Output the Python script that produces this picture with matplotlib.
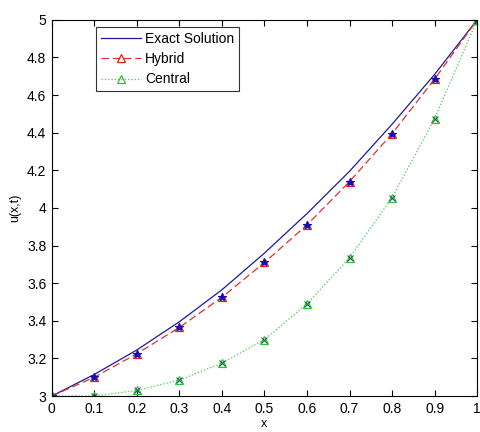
import matplotlib
matplotlib.use("Agg")
import matplotlib.pyplot as plt

plt.rcParams['font.family'] = ['Liberation Sans', 'DejaVu Sans']

x = [0.0, 0.1, 0.2, 0.3, 0.4, 0.5, 0.6, 0.7, 0.8, 0.9, 1.0]
exact = [3.0, 3.115, 3.245, 3.395, 3.565, 3.76, 3.97, 4.195, 4.445, 4.71, 5.0]
hybrid = [3.0, 3.10, 3.225, 3.365, 3.525, 3.71, 3.91, 4.14, 4.395, 4.685, 5.0]
central = [3.0, 3.00, 3.03, 3.085, 3.175, 3.30, 3.49, 3.735, 4.055, 4.475, 5.0]

xticks = [0, 0.1, 0.2, 0.3, 0.4, 0.5, 0.6, 0.7, 0.8, 0.9, 1]
xticklabels = ['0', '0.1', '0.2', '0.3', '0.4', '0.5', '0.6', '0.7', '0.8', '0.9', '1']
yticks = [3, 3.2, 3.4, 3.6, 3.8, 4, 4.2, 4.4, 4.6, 4.8, 5]
yticklabels = ['3', '3.2', '3.4', '3.6', '3.8', '4', '4.2', '4.4', '4.6', '4.8', '5']

fig = plt.figure(figsize=(4.8, 4.32), dpi=100)
ax = fig.add_axes([0.108, 0.0833, 0.886, 0.8707])

ax.plot(x, exact, '-', color='#1a1a9a', lw=0.9, label='Exact Solution')
ax.plot(x, hybrid, '--', color='#e03030', lw=0.9, marker='^', ms=6,
        mfc='none', mec='#d02020', mew=0.9, dashes=(6, 3), label='Hybrid')
ax.plot(x, central, ':', color='#40d040', lw=0.9, marker='^', ms=6,
        mfc='none', mec='#30c030', mew=0.9, label='Central')
ax.plot(x, hybrid, linestyle='none', marker='*', ms=6, color='#1010c0', mew=0.8)
ax.plot(x, central, linestyle='none', marker='x', ms=4, color='#206060', mew=0.8)

ax.set_xlim(0, 1)
ax.set_ylim(3, 5)
ax.set_xticks(xticks)
ax.set_xticklabels(xticklabels)
ax.set_yticks(yticks)
ax.set_yticklabels(yticklabels)
ax.tick_params(direction='in', top=True, right=True, labelsize=10, length=4, width=0.8, pad=4)
for s in ax.spines.values():
    s.set_linewidth(0.8)

ax.set_xlabel('x', fontsize=9, labelpad=2)
ax.set_ylabel('u(x,t)', fontsize=9, labelpad=4)

leg = ax.legend(loc='upper left', bbox_to_anchor=(0.1035, 0.981), borderaxespad=0,
                fontsize=10, frameon=True, fancybox=False, edgecolor='black',
                handlelength=2.9, borderpad=0.35, labelspacing=0.45, handletextpad=0.3)
leg.get_frame().set_linewidth(0.8)

fig.savefig('out.png', dpi=100)
